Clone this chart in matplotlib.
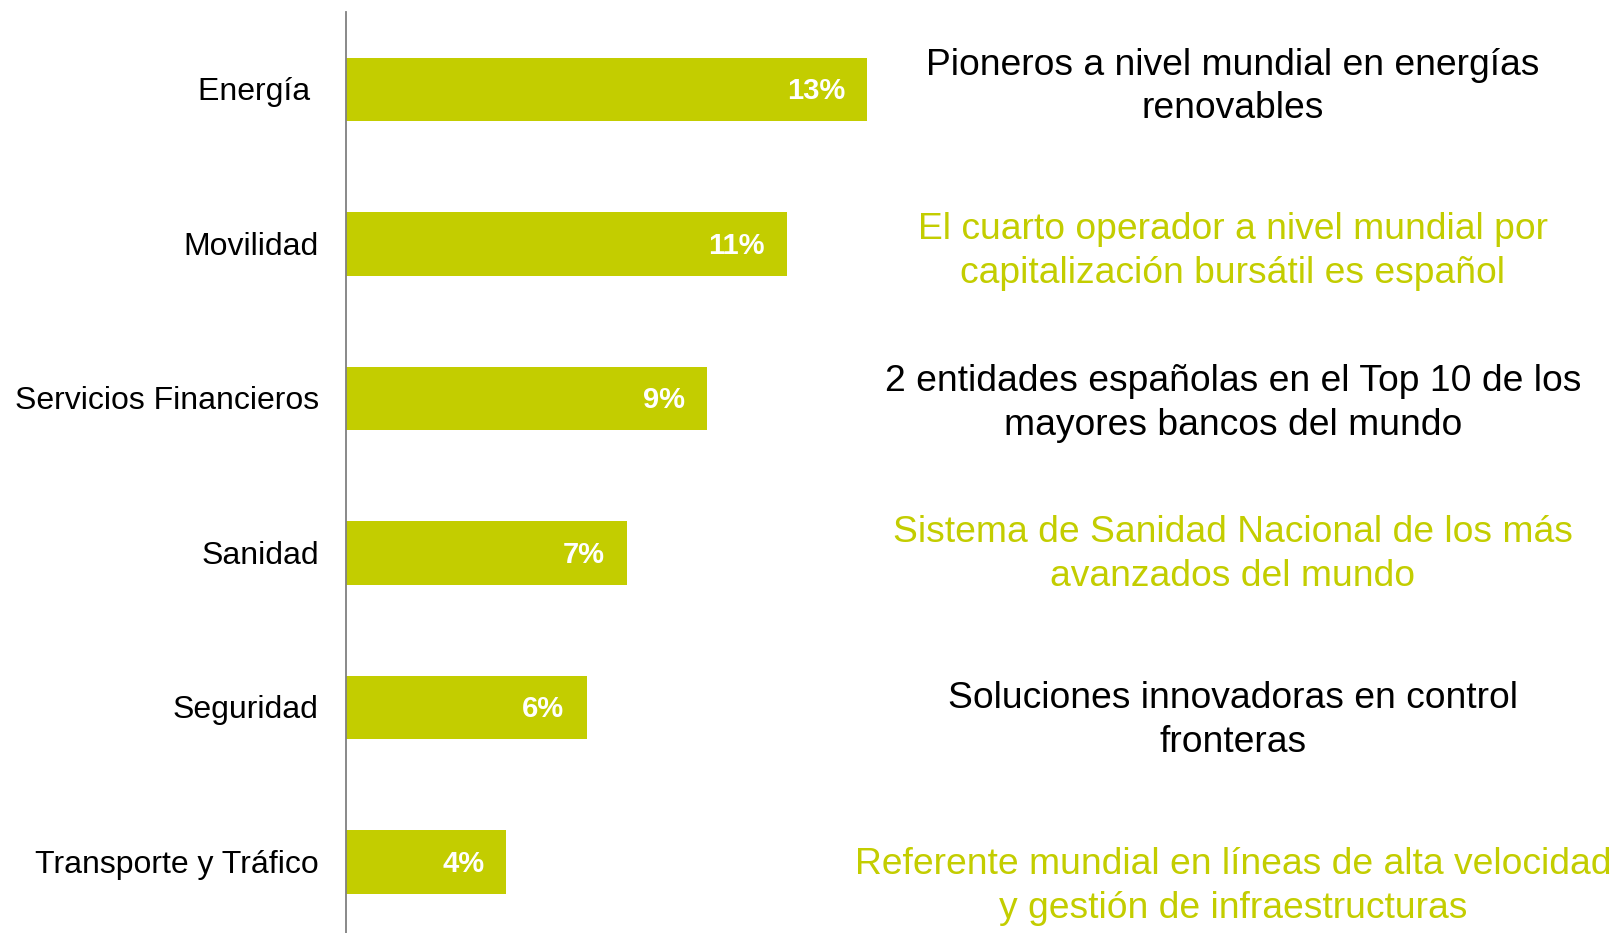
import matplotlib
matplotlib.use("Agg")
import matplotlib.pyplot as plt

categories = ["Energía ", "Movilidad", "Servicios Financieros", "Sanidad",
              "Seguridad", "Transporte y Tráfico"]
values = [13, 11, 9, 7, 6, 4]
notes = [
    "Pioneros a nivel mundial en energías\nrenovables",
    "El cuarto operador a nivel mundial por\ncapitalización bursátil es español",
    "2 entidades españolas en el Top 10 de los\nmayores bancos del mundo",
    "Sistema de Sanidad Nacional de los más\navanzados del mundo",
    "Soluciones innovadoras en control\nfronteras",
    "Referente mundial en líneas de alta velocidad\ny gestión de infraestructuras",
]
note_colors = ["black", "#c3cd00", "black", "#c3cd00", "black", "#c3cd00"]
note_shift = [-0.017, 0.05, 0.033, 0.007, 0.083, 0.16]

GREEN = "#c3cd00"
plt.rcParams["font.family"] = ["Liberation Sans", "DejaVu Sans"]

fig = plt.figure(figsize=(16.15, 9.33), dpi=100)
ax = fig.add_axes([0.2142, 0.0, 0.7858, 0.9867])

y = list(range(len(categories)))
ax.barh(y, values, height=0.41, color=GREEN, left=0)
ax.set_xlim(0, 31.65)
ax.set_ylim(5.46, -0.5)

for yi, v in zip(y, values):
    ax.text(v - 0.55, yi + 0.012, f"{v}%", ha="right", va="center", color="white",
            fontsize=21, fontweight="bold")

for yi, cat in zip(y, categories):
    ax.text(-0.68, yi + 0.018, cat, ha="right", va="center", fontsize=23, color="black")

for yi, note, c, s in zip(y, notes, note_colors, note_shift):
    ax.text(22.12, yi + s, note, ha="center", va="center", fontsize=26.8,
            color=c, linespacing=1.33)

for side in ["top", "right", "bottom"]:
    ax.spines[side].set_visible(False)
ax.spines["left"].set_color("#808080")
ax.spines["left"].set_linewidth(1.3)
ax.set_xticks([])
ax.set_yticks([])

fig.savefig("out.png", dpi=100)
